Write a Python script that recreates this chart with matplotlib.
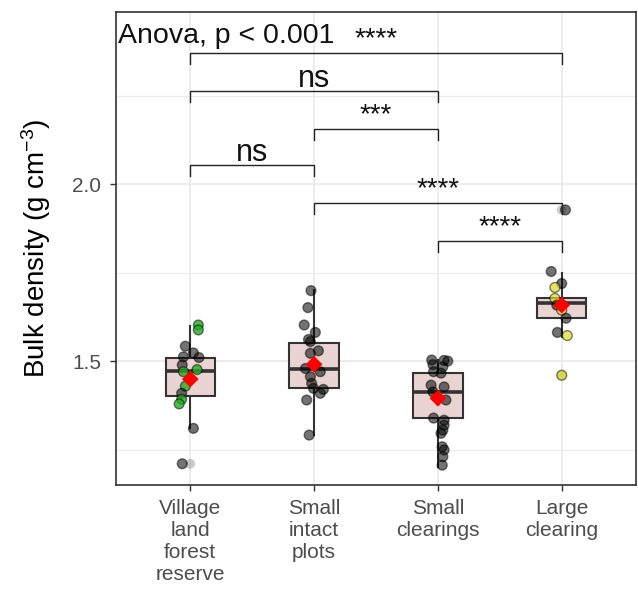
import numpy as np
import matplotlib
matplotlib.use('Agg')
import matplotlib.pyplot as plt
from matplotlib import font_manager as fm

# ---------------- data ----------------
categories = ["Village\nland\nforest\nreserve", "Small\nintact\nplots",
              "Small\nclearings", "Large\nclearing"]

# boxplot summary per group
whisker_low = [1.310, 1.291, 1.201, 1.569]
q1 = [1.401, 1.425, 1.338, 1.621]
median = [1.473, 1.478, 1.413, 1.663]
q3 = [1.508, 1.550, 1.467, 1.677]
whisker_high = [1.599, 1.700, 1.503, 1.748]
group_means = [1.449, 1.491, 1.395, 1.658]
outliers = [[1.210], [], [], [1.927, 1.460]]

# individual observations (value, jitter offset, point colour code)
g1_values = [1.602, 1.588, 1.542, 1.523, 1.512, 1.510, 1.489, 1.470, 1.476,
             1.429, 1.409, 1.392, 1.379, 1.310, 1.210]
g1_jitter = [0.065, 0.065, -0.04, 0.025, -0.055, 0.07, -0.065, -0.055, 0.055,
             -0.04, -0.07, -0.07, -0.09, 0.025, -0.065]
g1_colors = ['g', 'g', 'k', 'k', 'k', 'k', 'k', 'g', 'g', 'g', 'k', 'g', 'g', 'k', 'k']

g2_values = [1.699, 1.651, 1.602, 1.581, 1.561, 1.555, 1.529, 1.522, 1.479,
             1.470, 1.456, 1.437, 1.423, 1.420, 1.409, 1.390, 1.291]
g2_jitter = [-0.025, -0.05, -0.08, 0.01, -0.045, -0.03, 0.035, -0.03, -0.07,
             0.05, -0.03, -0.02, -0.005, 0.075, 0.05, -0.06, -0.04]
g2_colors = ['k'] * len(g2_values)

g3_values = [1.503, 1.502, 1.500, 1.490, 1.484, 1.470, 1.466, 1.432, 1.427,
             1.413, 1.390, 1.339, 1.333, 1.319, 1.305, 1.296, 1.258, 1.249,
             1.230, 1.206]
g3_jitter = [-0.05, 0.05, 0.08, -0.04, 0.04, -0.035, 0.025, -0.055, 0.05,
             -0.04, 0.065, -0.035, 0.05, 0.05, 0.04, 0.025, 0.035, 0.05,
             0.04, 0.035]
g3_colors = ['k'] * len(g3_values)

g4_values = [1.927, 1.753, 1.719, 1.708, 1.677, 1.658, 1.644, 1.621, 1.581,
             1.572, 1.460]
g4_jitter = [0.03, -0.085, 0.0, -0.055, -0.055, -0.04, 0.0, 0.035, -0.035,
             0.045, 0.0]
g4_colors = ['k', 'k', 'k', 'y', 'y', 'k', 'y', 'k', 'k', 'y', 'y']

# pairwise comparisons
comp_left = [1, 1, 2, 1, 2, 3]
comp_right = [4, 3, 3, 2, 4, 4]
comp_y = [2.370, 2.263, 2.156, 2.054, 1.947, 1.839]
comp_labels = ['****', 'ns', '***', 'ns', '****', '****']
anova_label = "Anova, p < 0.001"

# ---------------- style ----------------
names = {f.name for f in fm.fontManager.ttflist}
base_font = 'Liberation Sans' if 'Liberation Sans' in names else 'DejaVu Sans'
plt.rcParams['font.family'] = [base_font, 'DejaVu Sans']
plt.rcParams['mathtext.fontset'] = 'custom'
plt.rcParams['mathtext.rm'] = base_font
plt.rcParams['mathtext.it'] = base_font + ':italic'
plt.rcParams['mathtext.bf'] = base_font + ':bold'

W, H = 638, 592
fig = plt.figure(figsize=(W / 100, H / 100), dpi=100)
ax = fig.add_axes([116 / W, 1 - 485 / H, (636 - 116) / W, (485 - 12) / H])

ax.set_xlim(0.4, 4.6)
ax.set_ylim(1.150, 2.486)

grid_c = '#ebebeb'
ax.set_yticks([1.5, 2.0])
ax.set_yticklabels(['1.5', '2.0'])
ax.set_yticks([1.25, 1.75, 2.25], minor=True)
ax.set_xticks([1, 2, 3, 4])
ax.set_xticklabels(categories, linespacing=1.2)
ax.grid(True, which='major', color=grid_c, lw=1.3, zorder=0)
ax.grid(True, which='minor', axis='y', color=grid_c, lw=0.8, zorder=0)
ax.set_axisbelow(True)
ax.tick_params(which='minor', length=0)
ax.tick_params(which='major', length=4.3, width=1.0, color='#333333',
               labelcolor='#4d4d4d', labelsize=15)
ax.tick_params(axis='x', pad=5.7)
ax.tick_params(axis='y', pad=6.5)
for s in ax.spines.values():
    s.set_color('#333333')
    s.set_linewidth(1.2)

# boxes
stats = []
for i in range(4):
    stats.append(dict(whislo=whisker_low[i], q1=q1[i], med=median[i], q3=q3[i],
                      whishi=whisker_high[i], fliers=[]))
edge = '#333333'
ax.bxp(stats, positions=[1, 2, 3, 4], widths=0.4, patch_artist=True,
       showcaps=False, showfliers=False, manage_ticks=False,
       boxprops=dict(facecolor='#ead3d3', edgecolor=edge, linewidth=1.5),
       medianprops=dict(color=edge, linewidth=2.6, solid_capstyle='butt'),
       whiskerprops=dict(color=edge, linewidth=1.5))

# boxplot outliers (light)
for i, outs in enumerate(outliers):
    if outs:
        ax.scatter([i + 1] * len(outs), outs, s=50, facecolor=(0, 0, 0, 0.2),
                   edgecolor='none', zorder=3)

fill_map = {'k': (0, 0, 0, 0.55), 'g': (0.13, 0.67, 0.13, 0.8),
            'y': (0.87, 0.87, 0.13, 0.7)}
edge_rgba = (0, 0, 0, 0.5)
for gi, (vals, jit, cols) in enumerate([(g1_values, g1_jitter, g1_colors),
                                        (g2_values, g2_jitter, g2_colors),
                                        (g3_values, g3_jitter, g3_colors),
                                        (g4_values, g4_jitter, g4_colors)]):
    xs = [gi + 1 + j for j in jit]
    ax.scatter(xs, vals, s=50, c=[fill_map[c] for c in cols],
               edgecolors=[edge_rgba] * len(vals), linewidths=1.0, zorder=4)

# means
ax.scatter([1, 2, 3, 4], group_means, marker='D', s=72, color='#ff0000',
           edgecolor='none', zorder=5)

# brackets
tip = 0.031
for l, r, y, lab in zip(comp_left, comp_right, comp_y, comp_labels):
    ax.plot([l, l, r, r], [y - tip, y, y, y - tip], color='#222222', lw=1.0,
            zorder=6, solid_joinstyle='miter')
    if lab == 'ns':
        ax.text((l + r) / 2, y + 0.012, lab, ha='center', va='baseline',
                fontsize=22, color='#111111', zorder=7)
    else:
        ax.text((l + r) / 2, y + 0.020, lab, ha='center', va='baseline',
                fontsize=20, color='#111111', zorder=7)

ax.text(0.416, 2.399, anova_label, ha='left', va='baseline', fontsize=20.5,
        color='#111111', zorder=7)

fig.text(36 / W, 1 - 248 / H, 'Bulk density (g cm$^{-3}$)', rotation=90,
         ha='center', va='center', fontsize=20, color='black')

fig.savefig('out.png', dpi=100)
